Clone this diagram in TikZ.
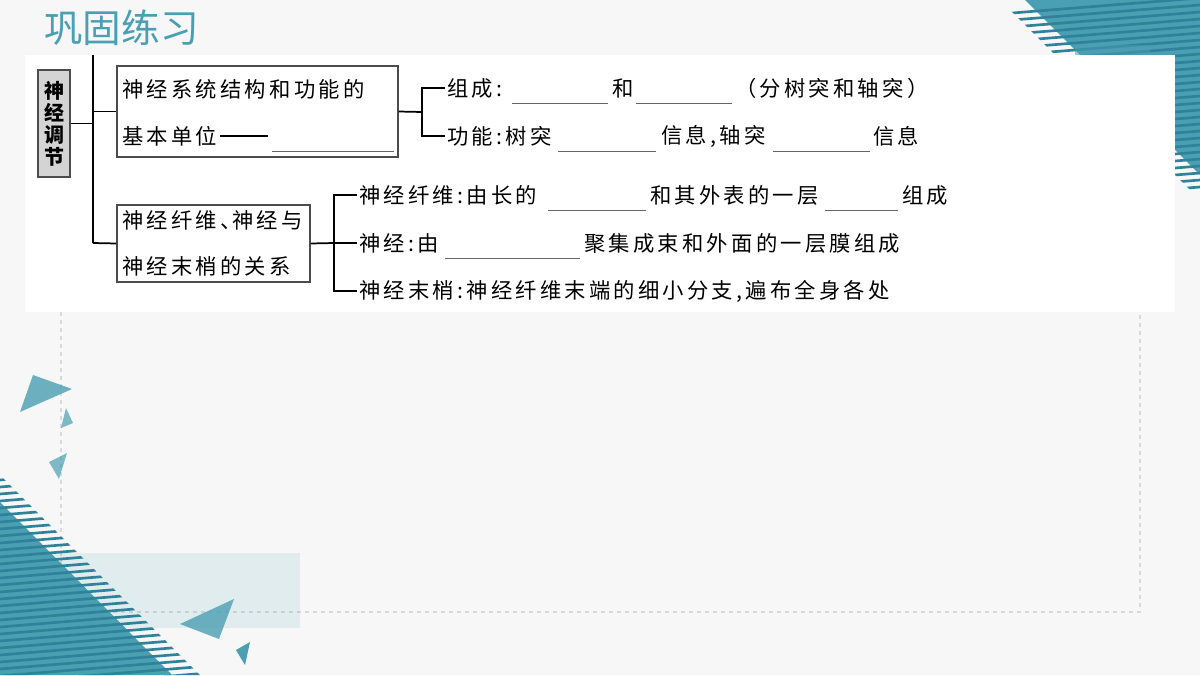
\documentclass[tikz,border=0pt]{standalone}
\usepackage{fontspec}
\newfontfamily\cjk{Noto Sans CJK SC}
\newfontfamily\cjkt[LetterSpace=15]{Noto Sans CJK SC}
\begin{document}
\begin{tikzpicture}[x=0.75pt,y=-0.75pt,
  txt/.style={anchor=west,inner sep=0pt,font=\cjkt\fontsize{16pt}{18pt}\selectfont},
  box/.style={draw=black!70,line width=0.8pt,fill=white},
  ln/.style={line width=1.3pt},
  blank/.style={draw=black!60,line width=0.7pt}]
\definecolor{teal1}{HTML}{4A9FB3}
\definecolor{teal2}{HTML}{2E8299}
\useasboundingbox (0,0) rectangle (1200,675);
\fill[black!3] (0,0) rectangle (1200,675);
% decorations
\draw[black!15,dashed,line width=0.8pt] (61,312) -- (61,612) -- (1140,612) -- (1140,312);
\fill[teal1,opacity=0.12] (50,553) rectangle (300,628);
\fill[teal1] (0,502) -- (0,675) -- (172,675) -- cycle;
\begin{scope}
\clip (0,475) -- (0,675) -- (200,675) -- cycle;
\foreach \y in {480,487,...,690} \draw[teal2,line width=2pt] (0,\y) -- (220,\y-18);
\end{scope}
\fill[teal1] (1025,0) -- (1200,0) -- (1200,175) -- cycle;
\begin{scope}
\clip (1000,0) -- (1200,0) -- (1200,200) -- cycle;
\foreach \y in {10,17,...,200} \draw[teal2,line width=2pt] (1000,\y+4) -- (1200,\y-12);
\end{scope}
\fill[teal1,opacity=0.8] (20,412) -- (33,375) -- (72,389) -- cycle;
\fill[teal1,opacity=0.7] (61,428) -- (66,408) -- (73,423) -- cycle;
\fill[teal1,opacity=0.7] (49,462) -- (67,453) -- (59,479) -- cycle;
\fill[teal1,opacity=0.8] (180,624) -- (234,599) -- (219,639) -- cycle;
\fill[teal1] (236,650) -- (250,642) -- (245,665) -- cycle;
% white panel
\fill[white] (25,55) rectangle (1175,312);
\fill[teal1,opacity=0.5] (1075,45) rectangle (1150,55);
% title
\node[anchor=west,inner sep=0pt,text=teal1,font=\cjk\fontsize{29pt}{31pt}\selectfont] (title) at (44,28) {巩固练习};
% root
\node[box,fill=black!17,minimum width=32*0.75pt,minimum height=107*0.75pt,inner sep=0pt,font=\cjk\bfseries\fontsize{15pt}{16.5pt}\selectfont,align=center] (root) at (54,123.5) {神\\经\\调\\节};
\coordinate (t0) at (93,55);
\coordinate (t1) at (93,243);
\draw[ln] (root.east) -- (root.east -| t0);
\draw[ln] (t0) -- (t1);
\node[box,minimum width=281*0.75pt,minimum height=91*0.75pt] (b1) at (257.5,111.5) {};
\node[box,minimum width=193*0.75pt,minimum height=77*0.75pt] (b2) at (213.5,243.5) {};
\draw[ln] (t1) -- (b2.west);
\draw[ln] (b1.west -| t0) -- (b1.west);
\node[txt] (b1a) at (122,89) {神经系统结构和功能的};
\node[txt] (b1b) at (122,136) {基本单位};
\coordinate (d0) at (220,136); \coordinate (d1) at (268,136);
\draw[line width=1.6pt] (d0) -- (d1);
\coordinate (u0) at (272,151); \coordinate (u1) at (394,151);
\draw[blank] (u0) -- (u1);
\node[txt] (b2a) at (122,220) {神经纤维、\hspace{-7pt}神经与};
\node[txt] (b2b) at (122,266) {神经末梢的关系};
% branch 1
\coordinate (v0) at (422,88); \coordinate (v1) at (422,136);
\draw[ln] (b1.east) -- (422,112);
\draw[ln] (445,88) -- (v0) -- (v1) -- (445,136);
\node[txt] (r1) at (447,88) {组成:};
\node[txt] (r1b) at (612,88) {和};
\node[txt] (r1c) at (735,88) {（分树突和轴突）};
\draw[blank] (512,103) -- (608,103);
\draw[blank] (636,103) -- (732,103);
\node[txt] (r2) at (447,136) {功能:树突};
\node[txt] (r2b) at (661,136) {信息,轴突};
\node[txt] (r2c) at (873,136) {信息};
\draw[blank] (558,151) -- (656,151);
\draw[blank] (773,151) -- (870,151);
% branch 2
\coordinate (w0) at (334,195); \coordinate (w1) at (334,291);
\draw[ln] (b2.east) -- (334,243);
\draw[ln] (357,195) -- (w0) -- (w1) -- (357,291);
\draw[ln] (334,243) -- (357,243);
\node[txt] (s1) at (359,195) {神经纤维:由长的};
\node[txt] (s1b) at (650,195) {和其外表的一层};
\node[txt] (s1c) at (902,195) {组成};
\draw[blank] (548,210) -- (646,210);
\draw[blank] (825,210) -- (898,210);
\node[txt] (s2) at (359,243) {神经:由};
\node[txt] (s2b) at (584,243) {聚集成束和外面的一层膜组成};
\draw[blank] (445,258) -- (580,258);
\node[txt] (s3) at (359,291) {神经末梢:神经纤维末端的细小分支,遍布全身各处};
\end{tikzpicture}
\end{document}
